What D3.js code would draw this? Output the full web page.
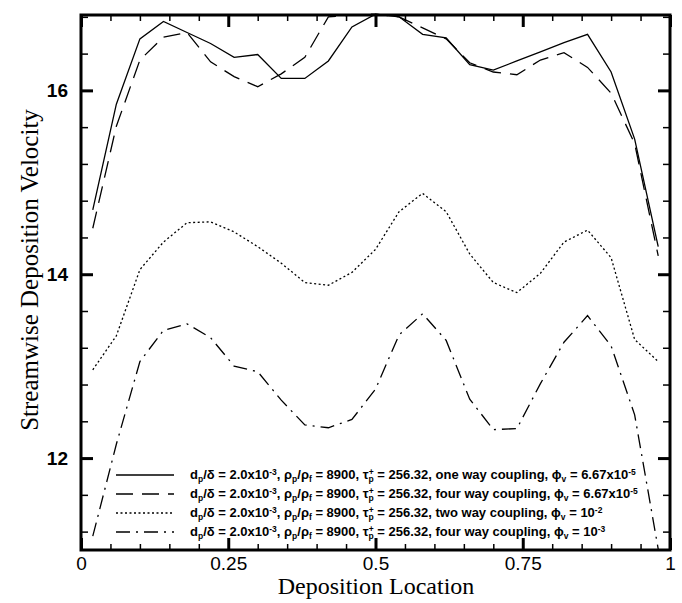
<!DOCTYPE html>
<html>
<head>
<meta charset="utf-8">
<script src="https://cdn.jsdelivr.net/npm/d3@7"></script>
<style>
  body { margin: 0; background: #fff; }
  svg { display: block; }
</style>
</head>
<body>
<svg id="chart" width="682" height="603"></svg>
<script>
// deposition location (bin centres)
const depositionLocation = [0.02, 0.06, 0.10, 0.14, 0.18, 0.22, 0.26, 0.30, 0.34, 0.38, 0.42, 0.46, 0.50,
                            0.54, 0.58, 0.62, 0.66, 0.70, 0.74, 0.78, 0.82, 0.86, 0.90, 0.94, 0.98];

// streamwise deposition velocity, one per case
const oneWay = [14.70, 15.85, 16.56, 16.75, 16.63, 16.51, 16.36, 16.39, 16.13, 16.13, 16.32, 16.69, 16.83,
                16.80, 16.61, 16.57, 16.28, 16.22, 16.32, 16.42, 16.52, 16.61, 16.20, 15.47, 14.30];
const fourWayLow = [14.50, 15.61, 16.33, 16.58, 16.63, 16.31, 16.15, 16.04, 16.18, 16.36, 16.80, 16.82, 16.83,
                    16.80, 16.68, 16.56, 16.30, 16.20, 16.17, 16.33, 16.41, 16.25, 15.97, 15.42, 14.20];
const twoWay = [12.96, 13.33, 14.05, 14.35, 14.56, 14.57, 14.46, 14.30, 14.12, 13.91, 13.88, 14.02, 14.27,
                14.68, 14.88, 14.68, 14.22, 13.91, 13.80, 14.01, 14.35, 14.48, 14.18, 13.29, 13.05];
const fourWayHigh = [11.15, 12.15, 13.05, 13.39, 13.46, 13.31, 13.00, 12.94, 12.63, 12.36, 12.33, 12.42, 12.75,
                     13.34, 13.57, 13.28, 12.64, 12.31, 12.32, 12.81, 13.26, 13.55, 13.22, 12.47, 11.01];

const xTicks = [0, 0.25, 0.5, 0.75, 1];
const yTicks = [12, 14, 16];

// legend text pieces: [text, kind]  ('' normal, 'sub', 'sup')
const head = [["d", ""], ["p", "sub"], ["/\u03B4 = 2.0x10", ""], ["-3", "sup"], [", \u03C1", ""], ["p", "sub"],
              ["/\u03C1", ""], ["f", "sub"], [" = 8900, \u03C4", ""], ["p", "sub"], ["+", "supback"], [" = 256.32, ", ""]];
const legendRows = [
  { label: head.concat([["one way coupling, \u03D5", ""], ["v", "sub"], [" = 6.67x10", ""], ["-5", "sup"]]), values: oneWay, dash: null },
  { label: head.concat([["four way coupling, \u03D5", ""], ["v", "sub"], [" = 6.67x10", ""], ["-5", "sup"]]), values: fourWayLow, dash: "17,9" },
  { label: head.concat([["two way coupling, \u03D5", ""], ["v", "sub"], [" = 10", ""], ["-2", "sup"]]), values: twoWay, dash: "2,2.5" },
  { label: head.concat([["four way coupling, \u03D5", ""], ["v", "sub"], [" = 10", ""], ["-3", "sup"]]), values: fourWayHigh, dash: "14,6,2,6" }
];

const plotLeft = 81, plotRight = 670, plotTop = 15, plotBottom = 550;
const svg = d3.select("#chart");

const x = d3.scaleLinear().domain([0, 1]).range([plotLeft, plotRight]);
const y = d3.scaleLinear().domain([11, 16.82]).range([plotBottom, plotTop]);

const xMinor = d3.range(0.05, 1, 0.05).filter(v => Math.abs(v * 4 - Math.round(v * 4)) > 1e-6);
const yMinor = d3.range(11.2, 16.85, 0.4).filter(v => Math.abs(v / 2 - Math.round(v / 2)) > 1e-6);

function ticks(axis, transform, width) {
  return svg.append("g")
    .attr("transform", transform)
    .call(axis)
    .call(g => g.select(".domain").remove())
    .call(g => g.selectAll(".tick line").attr("stroke", "#000").attr("stroke-width", width));
}

// minor ticks, all four sides, pointing inward
ticks(d3.axisBottom(x).tickValues(xMinor).tickSize(-6).tickFormat(""), `translate(0,${plotBottom})`, 1.5);
ticks(d3.axisTop(x).tickValues(xMinor).tickSize(-6).tickFormat(""), `translate(0,${plotTop})`, 1.5);
ticks(d3.axisLeft(y).tickValues(yMinor).tickSize(-7).tickFormat(""), `translate(${plotLeft},0)`, 1.5);
ticks(d3.axisRight(y).tickValues(yMinor).tickSize(-7).tickFormat(""), `translate(${plotRight},0)`, 1.5);

// major ticks
const xAxis = ticks(d3.axisBottom(x).tickValues(xTicks).tickSize(-12).tickFormat(d => String(d)), `translate(0,${plotBottom})`, 3);
ticks(d3.axisTop(x).tickValues(xTicks).tickSize(-12).tickFormat(""), `translate(0,${plotTop})`, 3);
const yAxis = ticks(d3.axisLeft(y).tickValues(yTicks).tickSize(-12).tickFormat(d => String(d)), `translate(${plotLeft},0)`, 3);
ticks(d3.axisRight(y).tickValues(yTicks).tickSize(-12).tickFormat(""), `translate(${plotRight},0)`, 3);

xAxis.selectAll(".tick text")
  .attr("font-family", "'Liberation Sans', Arial, sans-serif")
  .attr("font-size", 19)
  .attr("fill", "#000")
  .attr("y", 7);
yAxis.selectAll(".tick text")
  .attr("font-family", "'Liberation Sans', Arial, sans-serif")
  .attr("font-size", 19)
  .attr("font-weight", "bold")
  .attr("fill", "#000")
  .attr("x", -13);

// frame
svg.append("rect")
  .attr("x", plotLeft).attr("y", plotTop)
  .attr("width", plotRight - plotLeft).attr("height", plotBottom - plotTop)
  .attr("fill", "none").attr("stroke", "#000").attr("stroke-width", 3);

// curves
const line = d3.line()
  .x((d, i) => x(depositionLocation[i]))
  .y(d => y(d));

svg.selectAll("path.curve")
  .data(legendRows)
  .join("path")
  .attr("class", "curve")
  .attr("d", d => line(d.values))
  .attr("fill", "none")
  .attr("stroke", "#000")
  .attr("stroke-width", 1.3)
  .attr("stroke-dasharray", d => d.dash);

// legend
const legend = svg.append("g").attr("transform", "translate(116,0)");
const rowY = [479, 498, 517, 536];

legendRows.forEach((row, i) => {
  legend.append("line")
    .attr("x1", 0).attr("x2", 58)
    .attr("y1", rowY[i] - 4).attr("y2", rowY[i] - 4)
    .attr("stroke", "#000").attr("stroke-width", 1.3)
    .attr("stroke-dasharray", row.dash);

  const t = legend.append("text")
    .attr("x", 74).attr("y", rowY[i])
    .attr("font-family", "'Liberation Sans', Arial, sans-serif")
    .attr("font-weight", "bold")
    .attr("font-size", 13)
    .attr("fill", "#000");

  let shift = 0;
  row.label.forEach(([txt, kind]) => {
    let target = 0, size = 13, dx = 0;
    if (kind === "sub") { target = 2.5; size = 8.5; }
    if (kind === "sup") { target = -4.5; size = 8.5; }
    if (kind === "supback") { target = -4.5; size = 8.5; dx = -5; }
    t.append("tspan")
      .attr("dy", target - shift)
      .attr("dx", dx)
      .attr("font-size", size)
      .text(txt);
    shift = target;
  });
});

// axis titles
svg.append("text")
  .attr("x", 376).attr("y", 594)
  .attr("text-anchor", "middle")
  .attr("font-family", "'Liberation Serif', 'Times New Roman', serif")
  .attr("font-size", 24)
  .text("Deposition Location");

svg.append("text")
  .attr("transform", "translate(38,270) rotate(-90)")
  .attr("text-anchor", "middle")
  .attr("font-family", "'Liberation Serif', 'Times New Roman', serif")
  .attr("font-size", 25)
  .text("Streamwise Deposition Velocity");
</script>
</body>
</html>
